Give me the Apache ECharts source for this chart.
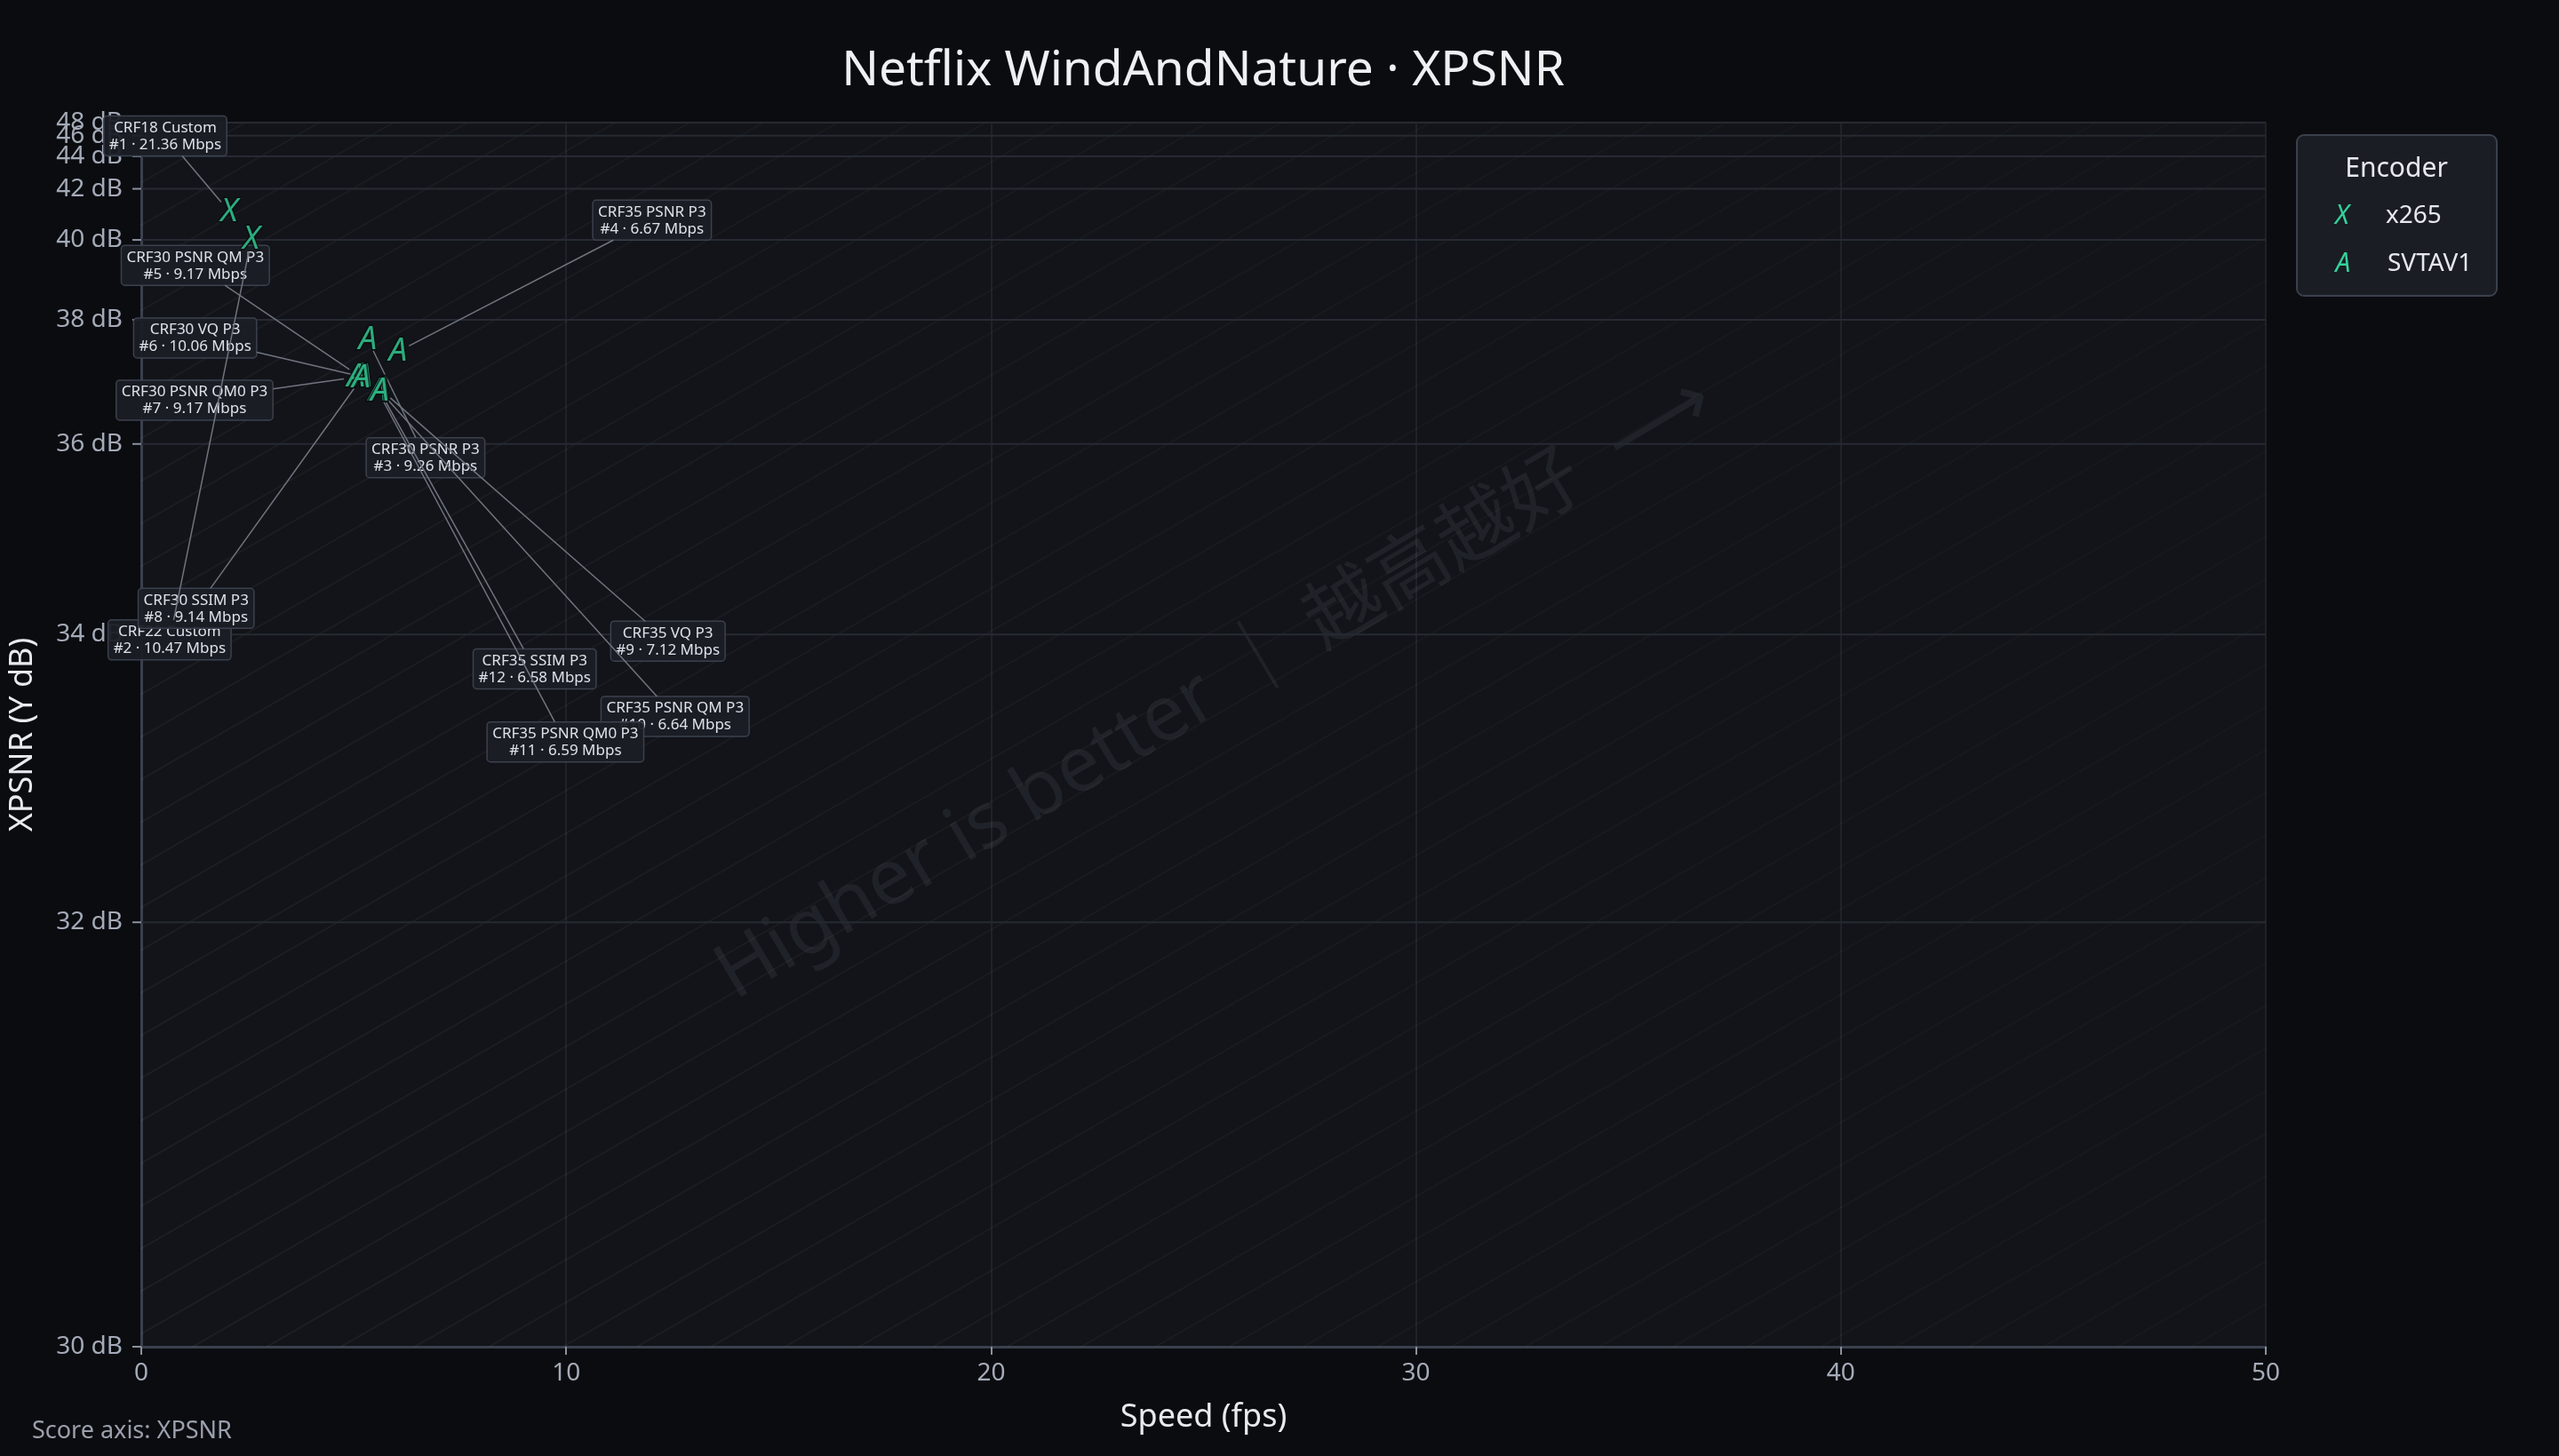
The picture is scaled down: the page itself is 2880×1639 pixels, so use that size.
<!DOCTYPE html>
<html><head><meta charset="utf-8">
<script src="https://cdn.jsdelivr.net/npm/echarts@6/dist/echarts.min.js"></script>
<style>html,body{margin:0;padding:0;background:#0b0c10;}#c{width:2880px;height:1639px;}</style>
</head><body><div id="c"></div>
<script>
// ---------------- data ----------------
const yTicks = [30, 32, 34, 36, 38, 40, 42, 44, 46, 48];

const x265Names = ['CRF18 Custom', 'CRF22 Custom'];
const x265Runs  = [1, 2];
const x265Speed = [2.07, 2.59];
const x265Score = [41.0, 40.02];
const x265Mbps  = [21.36, 10.47];

const svtNames = ['CRF30 PSNR P3', 'CRF35 PSNR P3', 'CRF30 PSNR QM P3', 'CRF30 VQ P3', 'CRF30 PSNR QM0 P3',
                  'CRF30 SSIM P3', 'CRF35 VQ P3', 'CRF35 PSNR QM P3', 'CRF35 PSNR QM0 P3', 'CRF35 SSIM P3'];
const svtRuns  = [3, 4, 5, 6, 7, 8, 9, 10, 11, 12];
const svtSpeed = [5.33, 6.04, 5.14, 5.22, 5.06, 5.18, 5.64, 5.60, 5.57, 5.62];
const svtScore = [37.62, 37.40, 36.98, 36.97, 36.97, 36.95, 36.77, 36.76, 36.75, 36.74];
const svtMbps  = [9.26, 6.67, 9.17, 10.06, 9.17, 9.14, 7.12, 6.64, 6.59, 6.58];

// ---------------- layout (callout offsets in px, by run number) ----------------
const labelOffsets = {
  1: [-72, -85], 2: [-92, 451], 3: [65, 133], 4: [286, -148],
  5: [-185, -125], 6: [-189, -44], 7: [-182, 26], 8: [-186, 259],
  9: [323, 283], 10: [333, 367], 11: [211, 395], 12: [174, 312]
};

// score axis transform (compressed toward high dB)
const C = 0.0035;
function T(db) { return -Math.log(Math.pow(10, -db / 10) + C); }

const GREEN = '#34d399';
const FONT = '"Noto Sans", "Open Sans", sans-serif';
const LABEL_FONT = '17px ' + FONT;

// combined callout records built from the arrays above
const callouts = [];
x265Names.forEach((n, i) => callouts.push({ x: x265Speed[i], y: x265Score[i], name: n, run: x265Runs[i], mbps: x265Mbps[i] }));
svtNames.forEach((n, i) => callouts.push({ x: svtSpeed[i], y: svtScore[i], name: n, run: svtRuns[i], mbps: svtMbps[i] }));
const calloutData = callouts.map((c, i) => [c.x, T(c.y), i]);

const x265Pts = x265Speed.map((s, i) => [s, T(x265Score[i])]);
const svtPts = svtSpeed.map((s, i) => [s, T(svtScore[i])]);

// text measuring for callout boxes
const mctx = document.createElement('canvas').getContext('2d');
mctx.font = LABEL_FONT;
function lines(c) { return [c.name, '#' + c.run + ' · ' + c.mbps.toFixed(2) + ' Mbps']; }
function boxSize(c) {
  const l = lines(c);
  const w = Math.max(mctx.measureText(l[0]).width, mctx.measureText(l[1]).width) + 12;
  return [w, 2 * 19 + 7];
}

const chart = echarts.init(document.getElementById('c'), null, { renderer: 'canvas' });

const G = { left: 158, top: 138, right: 330, bottom: 123 };
const gx = G.left, gy = G.top, gw = 2880 - G.left - G.right, gh = 1639 - G.top - G.bottom;

// diagonal stripes decoration
const stripes = [];
const k = gh / gw;
const stripeGrad = new echarts.graphic.LinearGradient(gx, gy + gh, gx + gw, gy, [
  { offset: 0, color: 'rgba(255,255,255,0.05)' },
  { offset: 0.5, color: 'rgba(255,255,255,0.028)' },
  { offset: 1, color: 'rgba(255,255,255,0.014)' }
], true);
for (let c = gy + 20; c < gy + gh + k * gw; c += 48) {
  const x1 = Math.max(gx, gx + (c - gy - gh) / k);
  const x2 = Math.min(gx + gw, gx + (c - gy) / k);
  if (x2 > x1) {
    stripes.push({ type: 'line', silent: true, z: 1,
      shape: { x1: x1, y1: c - k * (x1 - gx), x2: x2, y2: c - k * (x2 - gx) },
      style: { stroke: stripeGrad, lineWidth: 1.5 } });
  }
}

function calloutGeom(params, api) {
  const c = callouts[api.value(2)];
  const p = api.coord([api.value(0), api.value(1)]);
  const o = labelOffsets[c.run];
  const cx = p[0] + o[0], cy = p[1] + o[1];
  const sz = boxSize(c);
  return { c, p, cx, cy, w: sz[0], h: sz[1] };
}

const option = {
  backgroundColor: '#0b0c10',
  animation: false,
  grid: { left: G.left, top: G.top, right: G.right, bottom: G.bottom, show: true,
          backgroundColor: '#121419', borderWidth: 0, z: 0 },
  xAxis: {
    type: 'value', min: 0, max: 50, interval: 10,
    name: 'Speed (fps)', nameLocation: 'middle', nameGap: 62,
    nameTextStyle: { color: '#e8eaf0', fontSize: 36, fontFamily: FONT },
    axisLine: { show: true, lineStyle: { color: '#3a404c', width: 3 } },
    axisTick: { show: true, length: 9, lineStyle: { color: '#8a919e', width: 2 } },
    axisLabel: { color: '#a4abb8', fontSize: 28, margin: 16, fontFamily: FONT },
    splitLine: { show: true, lineStyle: { color: '#23272f', width: 1.5 } }
  },
  yAxis: {
    type: 'value', min: T(30), max: T(48),
    name: 'XPSNR (Y dB)', nameLocation: 'middle', nameGap: 115,
    nameTextStyle: { color: '#e8eaf0', fontSize: 36, fontFamily: FONT },
    axisLine: { show: true, lineStyle: { color: '#3a404c', width: 3 } },
    axisTick: { show: false }, axisLabel: { show: false }, splitLine: { show: false }
  },
  graphic: [
    ...stripes,
    { type: 'text', silent: true, z: 1, x: gx + gw / 2 + 14, y: gy + gh / 2 - 52,
      rotation: Math.atan2(gh, gw) + 0.015,
      style: { text: 'Higher is better ｜ 越高越好  ⟶', align: 'center', verticalAlign: 'middle',
               fill: 'rgba(190,200,220,0.08)', font: '87px "Noto Sans", "Noto Sans CJK SC", sans-serif' } },
    { type: 'text', x: gx + gw / 2, y: 80,
      style: { text: 'Netflix WindAndNature · XPSNR', align: 'center', verticalAlign: 'middle',
               fill: '#eef0f4', font: '55px ' + FONT } },
    { type: 'text', x: 36, y: 1611,
      style: { text: 'Score axis: XPSNR', align: 'left', verticalAlign: 'middle',
               fill: '#9aa0ac', font: '27px ' + FONT } },
    { type: 'rect', z: 10, shape: { x: 2585, y: 152, width: 225, height: 181, r: 8 },
      style: { fill: '#1a1d24', stroke: '#3a404c', lineWidth: 2 } },
    { type: 'text', z: 11, x: 2697, y: 190, style: { text: 'Encoder', align: 'center', verticalAlign: 'middle', fill: '#e6e8ee', font: '30px ' + FONT } },
    { type: 'text', z: 11, x: 2636, y: 243, style: { text: 'X', align: 'center', verticalAlign: 'middle', fill: GREEN, font: 'italic 30px ' + FONT } },
    { type: 'text', z: 11, x: 2685, y: 243, style: { text: 'x265', align: 'left', verticalAlign: 'middle', fill: '#e6e8ee', font: '28px ' + FONT } },
    { type: 'text', z: 11, x: 2637, y: 297, style: { text: 'A', align: 'center', verticalAlign: 'middle', fill: GREEN, font: 'italic 30px ' + FONT } },
    { type: 'text', z: 11, x: 2687, y: 297, style: { text: 'SVTAV1', align: 'left', verticalAlign: 'middle', fill: '#e6e8ee', font: '28px ' + FONT } }
  ],
  series: [
    // y ticks, labels and horizontal grid lines on the transformed scale
    {
      type: 'custom', coordinateSystem: 'cartesian2d', clip: false, silent: true, z: 2,
      encode: { x: 0, y: 1 },
      data: yTicks.map(v => [0, T(v), v]),
      renderItem: function (params, api) {
        const p = api.coord([0, api.value(1)]);
        const cs = params.coordSys;
        const v = api.value(2);
        const ch = [];
        if (v !== yTicks[0]) ch.push({ type: 'line', shape: { x1: cs.x, y1: p[1], x2: cs.x + cs.width, y2: p[1] },
                                       style: { stroke: '#262a33', lineWidth: 2 } });
        ch.push({ type: 'line', shape: { x1: cs.x - 10, y1: p[1], x2: cs.x, y2: p[1] }, style: { stroke: '#8a919e', lineWidth: 2 } });
        ch.push({ type: 'text', style: { text: v + ' dB', x: cs.x - 21, y: p[1], align: 'right', verticalAlign: 'middle',
                                         fill: '#a4abb8', font: '28px ' + FONT } });
        return { type: 'group', children: ch };
      }
    },
    // callout boxes
    {
      type: 'custom', coordinateSystem: 'cartesian2d', clip: false, silent: true, z: 3,
      encode: { x: 0, y: 1 }, data: calloutData,
      renderItem: function (params, api) {
        const g = calloutGeom(params, api);
        return { type: 'group', children: [
          { type: 'rect', shape: { x: g.cx - g.w / 2, y: g.cy - g.h / 2, width: g.w, height: g.h, r: 4 },
            style: { fill: 'rgba(27,30,37,0.95)', stroke: '#3b414d', lineWidth: 1.5 } },
          { type: 'text', style: { text: lines(g.c).join('\n'), x: g.cx, y: g.cy + 0.5, align: 'center', verticalAlign: 'middle',
                                   lineHeight: 19, fill: '#dde1e8', font: LABEL_FONT } }
        ] };
      }
    },
    // leader lines: from box edge toward the point
    {
      type: 'custom', coordinateSystem: 'cartesian2d', clip: false, silent: true, z: 4,
      encode: { x: 0, y: 1 }, data: calloutData,
      renderItem: function (params, api) {
        const g = calloutGeom(params, api);
        const dx = g.p[0] - g.cx, dy = g.p[1] - g.cy;
        const len = Math.hypot(dx, dy);
        const tb = Math.min(dx !== 0 ? (g.w / 2) / Math.abs(dx) : Infinity, dy !== 0 ? (g.h / 2) / Math.abs(dy) : Infinity);
        const gap = 14;
        const te = 1 - gap / len;
        if (te <= tb) return { type: 'group', children: [] };
        return { type: 'line', shape: { x1: g.cx + dx * tb, y1: g.cy + dy * tb, x2: g.cx + dx * te, y2: g.cy + dy * te },
                 style: { stroke: '#70747f', lineWidth: 1.5 } };
      }
    },
    // glyph markers
    {
      type: 'scatter', data: x265Pts, symbol: 'circle', symbolSize: 1, z: 5,
      itemStyle: { color: 'rgba(0,0,0,0)' }, silent: true, emphasis: { disabled: true },
      label: { show: true, position: 'inside', formatter: 'X', color: GREEN, fontSize: 37, fontStyle: 'italic',
               fontFamily: FONT, textBorderColor: '#0b0c10', textBorderWidth: 3 }
    },
    {
      type: 'scatter', data: svtPts, symbol: 'circle', symbolSize: 1, z: 5,
      itemStyle: { color: 'rgba(0,0,0,0)' }, silent: true, emphasis: { disabled: true },
      label: { show: true, position: 'inside', formatter: 'A', color: GREEN, fontSize: 37, fontStyle: 'italic',
               fontFamily: FONT, textBorderColor: '#0b0c10', textBorderWidth: 3 }
    }
  ]
};
chart.setOption(option);
</script></body></html>
